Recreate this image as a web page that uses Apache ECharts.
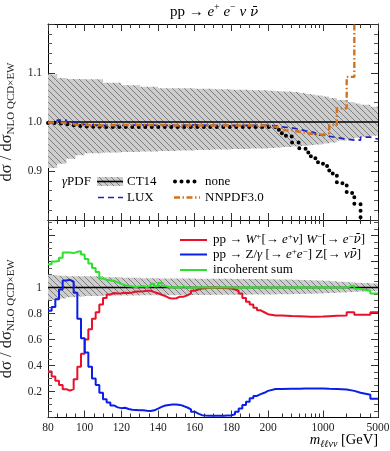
<!DOCTYPE html>
<html><head><meta charset="utf-8">
<script src="https://cdn.jsdelivr.net/npm/echarts@6/dist/echarts.min.js"></script>
<style>html,body{margin:0;padding:0;background:#fff}#c{width:390px;height:451px}</style>
</head><body><div id="c"></div>
<script>
// ---------------- data ----------------
const topEdges = [80,85,90,95,100,110,120,130,140,150,160,170,180,190,200,250,300,400,500,600,700,800,1000,1200,1500,2000,2500,3000,4000,5000];
const ct14Upper = [1.097,1.090,1.088,1.088,1.087,1.080,1.075,1.072,1.069,1.069,1.068,1.067,1.066,1.065,1.064,1.063,1.062,1.061,1.059,1.057,1.056,1.054,1.052,1.049,1.045,1.041,1.038,1.035,1.031];
const ct14Lower = [0.906,0.915,0.925,0.932,0.936,0.938,0.939,0.940,0.941,0.942,0.943,0.944,0.945,0.946,0.947,0.948,0.949,0.950,0.951,0.952,0.953,0.954,0.956,0.958,0.962,0.965,0.968,0.970,0.972];
const ct14Central = [1,1,1,1,1,1,1,1,1,1,1,1,1,1,1,1,1,1,1,1,1,1,1,1,1,1,1,1,1];
const luxRatio = [0.998,1.004,0.998,0.995,0.993,0.993,0.994,0.993,0.993,0.994,0.993,0.993,0.993,0.993,0.992,0.990,0.988,0.985,0.982,0.980,0.978,0.973,0.971,0.968,0.965,0.963,0.963,0.969,0.965];
const noneRatio = [0.998,0.996,0.993,0.991,0.990,0.990,0.990,0.990,0.990,0.990,0.990,0.990,0.990,0.990,0.990,0.984,0.972,0.958,0.946,0.938,0.930,0.918,0.910,0.895,0.875,0.855,0.833,0.770,0.740];
const nnpdfRatio = [0.999,0.998,0.995,0.994,0.993,0.994,0.994,0.994,0.993,0.993,0.993,0.993,0.993,0.993,0.990,0.988,0.983,0.980,0.978,0.976,0.975,0.974,0.977,0.994,1.028,1.092,1.400,1.400,1.400];

const botEdges = [80,82,84,86,88,90,92,94,96,98,100,102,104,106,108,110,112,114,116,118,120,122,124,126,128,130,132,134,136,138,140,142,144,146,148,150,152,154,156,158,160,162,164,166,168,170,172,174,176,178,180,182,184,186,188,190,192,194,196,198,200,250,300,400,500,600,700,800,1000,1200,1500,2000,2500,3000,4000,5000];
const wwRatio = [0.354,0.315,0.282,0.250,0.218,0.207,0.218,0.295,0.390,0.490,0.600,0.680,0.760,0.810,0.870,0.920,0.946,0.958,0.955,0.956,0.960,0.958,0.962,0.970,0.970,0.972,0.975,0.975,0.965,0.956,0.945,0.935,0.920,0.915,0.918,0.930,0.930,0.940,0.955,0.975,0.985,0.992,0.995,0.998,0.998,0.998,0.997,0.996,0.995,0.993,0.985,0.975,0.955,0.920,0.890,0.870,0.845,0.825,0.810,0.795,
  0.785,0.785,0.782,0.780,0.778,0.775,0.775,0.777,0.780,0.783,0.785,0.810,0.790,0.790,0.810];
const zzRatio = [0.822,0.850,0.910,0.985,1.055,1.060,1.045,0.960,0.760,0.610,0.500,0.390,0.300,0.250,0.190,0.140,0.115,0.093,0.078,0.072,0.075,0.065,0.060,0.058,0.056,0.055,0.052,0.050,0.055,0.068,0.082,0.092,0.097,0.100,0.100,0.097,0.088,0.077,0.063,0.045,0.030,0.018,0.015,0.014,0.013,0.013,0.013,0.014,0.015,0.016,0.025,0.045,0.070,0.097,0.122,0.148,0.166,0.180,0.190,0.205,
  0.220,0.220,0.222,0.222,0.223,0.223,0.224,0.224,0.222,0.220,0.215,0.205,0.190,0.175,0.145];
const sumRatio = [1.180,1.200,1.205,1.230,1.270,1.270,1.265,1.275,1.280,1.255,1.220,1.185,1.150,1.120,1.070,1.060,1.055,1.052,1.040,1.028,1.018,1.015,1.008,1.005,1.008,1.010,1.005,1.012,1.030,1.010,1.035,1.012,1.005,1.000,1.002,1.000,1.008,1.000,0.998,1.000,1.000,1.002,1.000,1.000,0.998,1.000,1.000,1.002,1.000,1.000,1.000,0.998,1.000,1.000,1.002,1.000,1.000,1.000,1.000,1.000,
  1.000,1.000,1.000,1.002,1.000,1.000,1.000,1.002,1.000,1.000,1.000,1.015,0.990,0.975,0.955];

const xMajorTicks = [80,100,120,140,160,180,200,1000,5000];
const xMinorTicks = [85,90,95,105,110,115,125,130,135,145,150,155,165,170,175,185,190,195,300,400,500,600,700,800,900,2000,3000,4000];
const xTickLabels = [80,100,120,140,160,180,200,1000,5000];

// ---------------- helpers ----------------
const FONT = 'Liberation Serif';
// axis: linear 80..200, logarithmic 200..5000
function T(m){ return m <= 200 ? m : 200 + 60*Math.log(m/200)/Math.log(25); }
function invT(t){ return t <= 200 ? t : 200*Math.pow(25,(t-200)/60); }
function stepData(edges, vals){ return edges.map((e,i)=>[T(e), vals[Math.min(i, vals.length-1)]]); }

const hatch = document.createElement('canvas');
hatch.width = 6; hatch.height = 6;
(function(){
  const g = hatch.getContext('2d');
  g.fillStyle = '#cdcdcd'; g.fillRect(0,0,6,6);
  g.strokeStyle = '#747474'; g.lineWidth = 0.9;
  g.beginPath();
  g.moveTo(-1,-1); g.lineTo(7,7);
  g.moveTo(-1,5); g.lineTo(1,7);
  g.moveTo(5,-1); g.lineTo(7,1);
  g.stroke();
})();
const hatchFill = {image: hatch, repeat: 'repeat'};

function xa(grid, pos, vals, len, line, labels){
  return {
    type:'value', gridIndex:grid, position:pos, min:80, max:260,
    splitLine:{show:false},
    axisLine:{show:line, onZero:false, lineStyle:{color:'#000', width:1}},
    axisTick:{show:true, inside:true, length:len, customValues: vals.map(T), lineStyle:{color:'#333', width:1}},
    axisLabel: labels ? {show:true, customValues: labels.map(T), formatter: v=>String(Math.round(invT(v))),
      fontFamily:FONT, fontSize:11.5, color:'#222', margin:4} : {show:false}
  };
}
function ya(grid, pos, min, max, interval, split, labels, fmt){
  return {
    type:'value', gridIndex:grid, position:pos, min:min, max:max, interval:interval,
    splitLine:{show:false},
    axisLine:{show:true, onZero:false, lineStyle:{color:'#000', width:1}},
    axisTick:{show:true, inside:true, length:7, lineStyle:{color:'#333', width:1}},
    minorTick:{show:true, splitNumber:split, length:4, lineStyle:{color:'#555', width:1}},
    axisLabel: labels ? {show:true, formatter: fmt, fontFamily:FONT, fontSize:11.5, color:'#222', margin:6, showMinLabel:false, showMaxLabel:false} : {show:false}
  };
}
const yNameStyle = {
  rich:{
    a:{fontFamily:FONT, fontSize:16.5, color:'#222', lineHeight:21, verticalAlign:'middle'},
    b:{fontFamily:FONT, fontSize:11, color:'#222', lineHeight:11, verticalAlign:'bottom'}
  }
};

function line(xi, yi, edges, vals, style){
  return {type:'line', xAxisIndex:xi, yAxisIndex:yi, data:stepData(edges, vals), step:'end',
    symbol:'none', silent:true, animation:false, lineStyle:style};
}
// hatched uncertainty band as one step-shaped polygon placed through the axes
function band(xi, yi, edges, lo, hi){
  return {type:'custom', xAxisIndex:xi, yAxisIndex:yi, data:[[edges[0], lo[0]]], silent:true, clip:true, animation:false,
    renderItem:function(params, api){
      const pts = [];
      for (let i=0;i<hi.length;i++){ pts.push(api.coord([T(edges[i]), hi[i]])); pts.push(api.coord([T(edges[i+1]), hi[i]])); }
      for (let i=lo.length-1;i>=0;i--){ pts.push(api.coord([T(edges[i+1]), lo[i]])); pts.push(api.coord([T(edges[i]), lo[i]])); }
      return {type:'polygon', shape:{points:pts}, style:{fill:hatchFill}};
    }};
}

const series = [
  band(0,0,topEdges,ct14Lower,ct14Upper),
  line(0,0,topEdges,ct14Central,{color:'#000', width:1.6}),
  line(0,0,topEdges,noneRatio,{color:'#000', width:4, type:[0,6.5], cap:'round'}),
  line(0,0,topEdges,luxRatio,{color:'#1c24c4', width:1.7, type:[6,4]}),
  line(0,0,topEdges,nnpdfRatio,{color:'#d4731c', width:2.4, type:[6,2.5,1.5,2.5]}),
  band(4,2,topEdges,ct14Lower,ct14Upper),
  line(4,2,topEdges,ct14Central,{color:'#000', width:1.6}),
  line(4,2,botEdges,wwRatio,{color:'#e8102a', width:2}),
  line(4,2,botEdges,zzRatio,{color:'#0a1ee8', width:2}),
  line(4,2,botEdges,sumRatio,{color:'#2ee02e', width:2})
];

const R = {
  n:{fontFamily:FONT, fontSize:13, color:'#222', lineHeight:16, verticalAlign:'middle'},
  i:{fontFamily:FONT, fontSize:13, fontStyle:'italic', color:'#222', lineHeight:16, verticalAlign:'middle'},
  d:{fontFamily:'DejaVu Serif', fontSize:12, fontStyle:'italic', color:'#222', lineHeight:16, verticalAlign:'middle'},
  p:{fontFamily:FONT, fontSize:9, color:'#222', lineHeight:8, verticalAlign:'top'}
};
const RT = {
  n:{fontFamily:FONT, fontSize:15, color:'#222', lineHeight:19, verticalAlign:'middle'},
  i:{fontFamily:FONT, fontSize:15, fontStyle:'italic', color:'#222', lineHeight:19, verticalAlign:'middle'},
  d:{fontFamily:'DejaVu Serif', fontSize:13.5, fontStyle:'italic', color:'#222', lineHeight:19, verticalAlign:'middle'},
  p:{fontFamily:FONT, fontSize:10, color:'#222', lineHeight:10, verticalAlign:'top'}
};
const RX = {
  n:{fontFamily:FONT, fontSize:14.5, color:'#222', lineHeight:18, verticalAlign:'middle'},
  i:{fontFamily:FONT, fontSize:14.5, fontStyle:'italic', color:'#222', lineHeight:18, verticalAlign:'middle'},
  s:{fontFamily:FONT, fontSize:10, fontStyle:'italic', color:'#222', lineHeight:10, verticalAlign:'bottom'}
};
function txt(x,y,text,rich,align){
  return {type:'text', x:x, y:y, z:50, silent:true, style:{text:text, rich:rich, textAlign:align||'left', textVerticalAlign:'middle'}};
}
function seg(x1,x2,y,style){
  return {type:'line', z:50, silent:true, shape:{x1:x1,y1:y,x2:x2,y2:y}, style:style};
}

const graphics = [
  txt(214, 12, '{n|pp → }{i|e}{p|+}{n| }{i|e}{p|−}{n| }{i|ν}{n| }{d|ν̄}', RT, 'center'),
  // top legend
  txt(62, 182, '{i|γ}{n|PDF}', R),
  {type:'rect', z:50, silent:true, shape:{x:97,y:177,width:26,height:9}, style:{fill:hatchFill}},
  seg(97,123,181.5,{stroke:'#000', lineWidth:1.6}),
  txt(127, 182, '{n|CT14}', R),
  seg(175,200,181.5,{stroke:'#000', lineWidth:4, lineDash:[0,6.5], lineCap:'round'}),
  txt(205, 182, '{n|none}', R),
  seg(98,123,197.5,{stroke:'#1c24c4', lineWidth:1.7, lineDash:[6,4]}),
  txt(127, 198, '{n|LUX}', R),
  seg(174,200,197.5,{stroke:'#d4731c', lineWidth:2.4, lineDash:[6,2.5,1.5,2.5]}),
  txt(205, 198, '{n|NNPDF3.0}', R),
  // bottom legend
  seg(180,207,240,{stroke:'#e8102a', lineWidth:2}),
  txt(213, 240, '{n|pp → }{i|W}{p|+}{n|[→ }{i|e}{p|+}{i|ν}{n|] }{i|W}{p|−}{n|[→ }{i|e}{p|−}{d|ν̄}{n|]}', R),
  seg(180,207,254.5,{stroke:'#0a1ee8', lineWidth:2}),
  txt(213, 255, '{n|pp → Z/}{i|γ}{n| [→ }{i|e}{p|+}{i|e}{p|−}{n|] Z[→ }{i|ν}{d|ν̄}{n|]}', R),
  seg(180,207,270,{stroke:'#2ee02e', lineWidth:2}),
  txt(213, 270, '{n|incoherent sum}', R),
  // x axis title
  txt(378, 440, '{i|m}{s|ℓℓνν}{n| [GeV]}', RX, 'right')
];

const option = {
  animation:false,
  backgroundColor:'#fff',
  grid:[
    {left:48, width:330, top:24, height:196, outerBoundsMode:'none', containLabel:false},
    {left:48, width:330, top:220, height:197.5, outerBoundsMode:'none', containLabel:false}
  ],
  xAxis:[
    xa(0,'bottom',xMajorTicks,7,true,null),
    xa(0,'bottom',xMinorTicks,4,false,null),
    xa(0,'top',xMajorTicks,7,true,null),
    xa(0,'top',xMinorTicks,4,false,null),
    xa(1,'bottom',xMajorTicks,7,true,xTickLabels),
    xa(1,'bottom',xMinorTicks,4,false,null),
    xa(1,'top',xMajorTicks,7,true,null),
    xa(1,'top',xMinorTicks,4,false,null)
  ],
  yAxis:[
    Object.assign(ya(0,'left',0.8,1.2,0.1,5,true,v=>v.toFixed(1)),
      {name:'{a|dσ / dσ}{b|NLO QCD×EW}', nameLocation:'middle', nameGap:26, nameTextStyle:yNameStyle}),
    ya(0,'right',0.8,1.2,0.1,5,false),
    Object.assign(ya(1,'left',0,1.52,0.2,4,true,v=>(v>0.01 && v<1.01) ? (Math.abs(v-1)<1e-6 ? '1' : v.toFixed(1)) : ''),
      {name:'{a|dσ / dσ}{b|NLO QCD×EW}', nameLocation:'middle', nameGap:26, nameTextStyle:yNameStyle}),
    ya(1,'right',0,1.52,0.2,4,false)
  ],
  series: series,
  graphic: graphics
};
const chart = echarts.init(document.getElementById('c'), null, {renderer:'canvas', width:390, height:451});
chart.setOption(option);
</script>
</body></html>
